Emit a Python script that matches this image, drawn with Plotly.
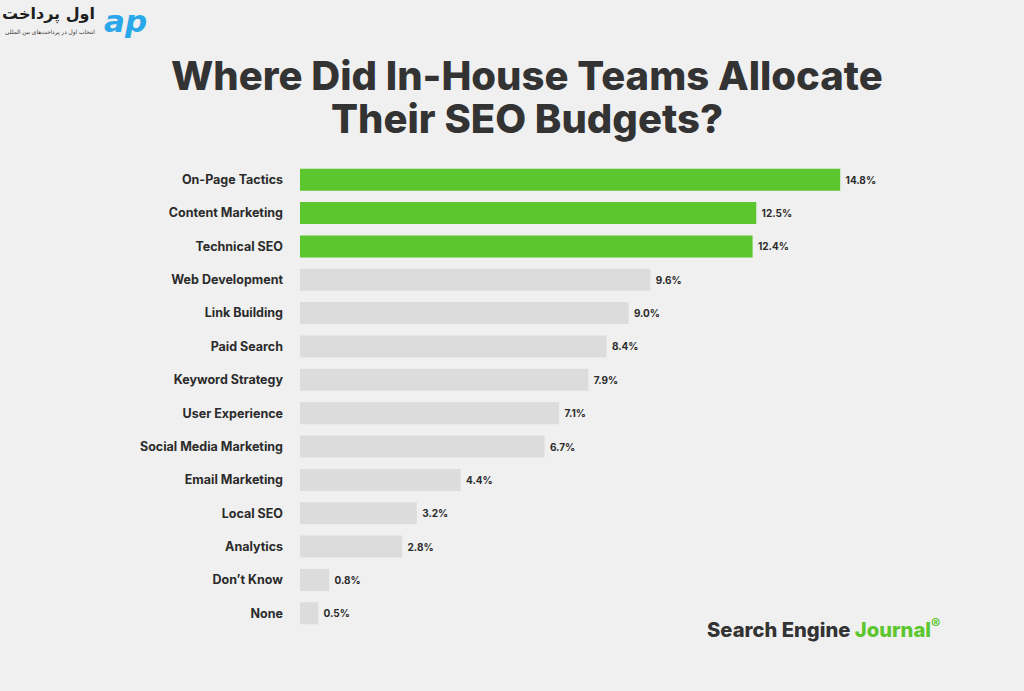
import plotly.graph_objects as go

categories = ["On-Page Tactics", "Content Marketing", "Technical SEO", "Web Development",
              "Link Building", "Paid Search", "Keyword Strategy", "User Experience",
              "Social Media Marketing", "Email Marketing", "Local SEO", "Analytics",
              "Don\u2019t Know", "None"]
values = [14.8, 12.5, 12.4, 9.6, 9.0, 8.4, 7.9, 7.1, 6.7, 4.4, 3.2, 2.8, 0.8, 0.5]
highlight = 3  # first three bars are green

GREEN = "#5cc62e"
GREY = "#dcdcdc"
BG = "#f0f0f0"
DARK = "#2b2b2b"

W, H = 1024, 691
L, R, T, B = 300, 140, 163, 61
PW, PH = W - L - R, H - T - B


def px(x):
    # page pixel x -> paper coord
    return (x - L) / PW


def py(y):
    # page pixel y (from top) -> paper coord
    return (H - B - y) / PH


colors = [GREEN if i < highlight else GREY for i in range(len(values))]

fig = go.Figure()
fig.add_trace(go.Bar(
    x=values, y=categories, orientation="h",
    marker=dict(color=colors, line=dict(width=0)),
    width=0.66,
    text=[f" {v:.1f}%" for v in values],
    textposition="outside",
    textfont=dict(family="Inter", size=10, color=DARK, weight=700),
    cliponaxis=False,
    hoverinfo="skip",
))

fig.update_layout(
    width=W, height=H,
    paper_bgcolor=BG, plot_bgcolor=BG,
    margin=dict(l=L, r=R, t=T, b=B),
    showlegend=False,
    xaxis=dict(range=[0, 16], visible=False, fixedrange=True),
    yaxis=dict(autorange="reversed", showgrid=False, zeroline=False, showline=False,
               ticks="", ticklabelstandoff=16, fixedrange=True,
               tickfont=dict(family="Inter", size=12.5, color=DARK, weight=700)),
    font=dict(family="Inter"),
)

# title, two centred lines
title_lines = ["Where Did In-House Teams Allocate", "Their SEO Budgets?"]
for i, line in enumerate(title_lines):
    fig.add_annotation(text=line, xref="paper", yref="paper",
                       x=px(527), y=py(76 + 43 * i),
                       showarrow=False, xanchor="center", yanchor="middle",
                       font=dict(family="Inter", size=40, color="#333333", weight=800))

# Search Engine Journal logo bottom right
fig.add_annotation(
    text="Search Engine <span style='color:#5cc62e'>Journal</span><sup style='font-size:7px;color:#5cc62e'>\u00ae</sup>",
    xref="paper", yref="paper", x=px(942), y=py(628),
    showarrow=False, xanchor="right", yanchor="middle",
    font=dict(family="Inter", size=20.2, color="#333333", weight=800))

# top-left brand
fig.add_annotation(text="\u0627\u0648\u0644 \u067e\u0631\u062f\u0627\u062e\u062a",
                   xref="paper", yref="paper", x=px(97), y=py(14),
                   showarrow=False, xanchor="right", yanchor="middle",
                   font=dict(family="DejaVu Sans", size=16, color="#1e1e1e", weight=700))
fig.add_annotation(text="\u0627\u0646\u062a\u062e\u0627\u0628 \u0627\u0648\u0644 \u062f\u0631 \u067e\u0631\u062f\u0627\u062e\u062a\u200c\u0647\u0627\u06cc \u0628\u06cc\u0646 \u0627\u0644\u0645\u0644\u0644\u06cc",
                   xref="paper", yref="paper", x=px(97), y=py(33),
                   showarrow=False, xanchor="right", yanchor="middle",
                   font=dict(family="DejaVu Sans", size=5.8, color="#333333"))
fig.add_annotation(text="<i><b>ap</b></i>", xref="paper", yref="paper",
                   x=px(126), y=py(21),
                   showarrow=False, xanchor="center", yanchor="middle",
                   font=dict(family="DejaVu Sans", size=31, color="#2aa7e8"))

fig.write_html("out.html", config={"displayModeBar": False},
               post_script="document.body.style.margin='0';")
